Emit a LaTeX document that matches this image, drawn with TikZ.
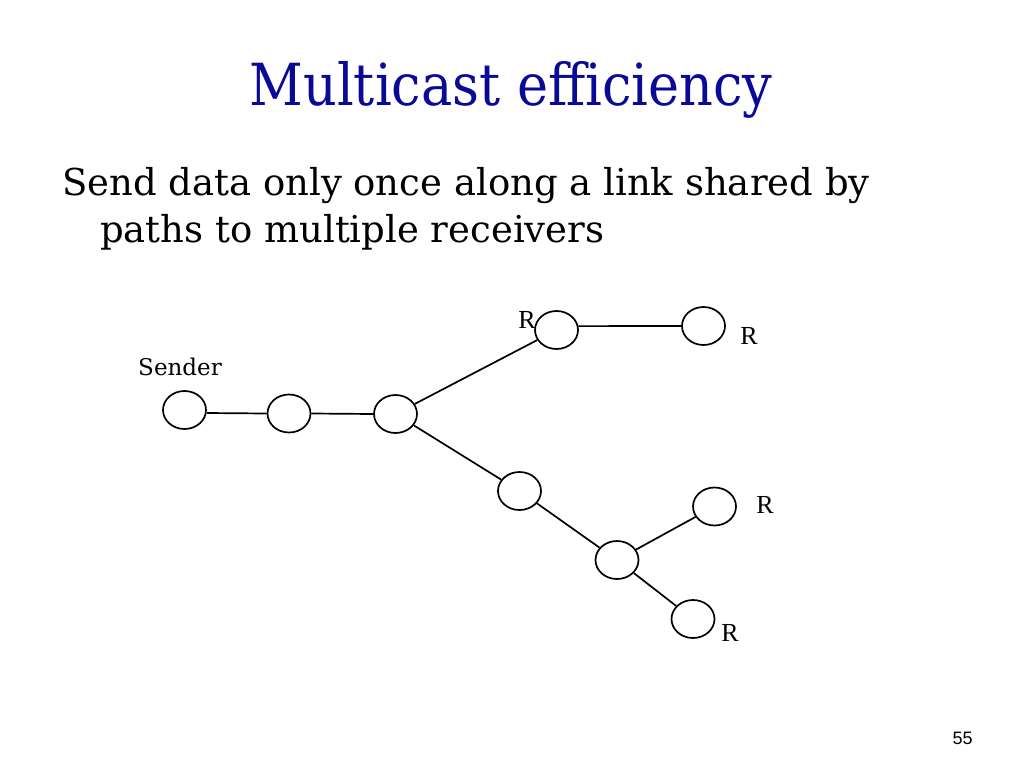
\documentclass[tikz,border=0pt]{standalone}
\usepackage{fontspec}
\setmainfont{DejaVu Serif}
\newfontfamily\titlefont[FakeStretch=0.905]{DejaVu Serif}
\newfontfamily\rfont{Liberation Serif}
\newfontfamily\numfont{Liberation Sans}
\usetikzlibrary{shapes.geometric}
\definecolor{titleblue}{RGB}{10,10,150}
\tikzset{
	hop/.style={draw, ellipse, line width=1.7pt, minimum width=43pt, minimum height=38pt, inner sep=0pt},
	link/.style={line width=1.7pt},
	rlabel/.style={anchor=base, font=\rfont\fontsize{26}{26}\selectfont, inner sep=0pt}
}
\begin{document}
\begin{tikzpicture}[x=1pt, y=-1pt]
	\useasboundingbox (0,0) rectangle (1024,768);
	
	\node[anchor=base, inner sep=0pt, text=titleblue, font=\titlefont\fontsize{58}{58}\selectfont] (title) at (511,105) {Multicast efficiency};
	\node[anchor=base west, inner sep=0pt, font=\fontsize{37}{37}\selectfont] (line1) at (62,195) {Send data only once along a link shared by};
	\node[anchor=base west, inner sep=0pt, font=\fontsize{37}{37}\selectfont] (line2) at (100,242) {paths to multiple receivers};
	
	
	\node[hop] (s) at (184.5,410) {};
	\node[hop] (a) at (289,413.5) {};
	\node[hop] (b) at (395.5,414) {};
	\node[hop] (c) at (556.5,330) {};
	\node[hop] (c2) at (703.5,326) {};
	\node[hop] (d) at (519.5,491) {};
	\node[hop] (e) at (617,560) {};
	\node[hop] (e1) at (714.5,506.5) {};
	\node[hop] (e2) at (693,619) {};
	
	\draw[link] ([yshift=-3pt]s.east) -- (a.west);
	\draw[link] (a.east) -- (b.west);
	\draw[link] (b) -- (c);
	\draw[link] (c.10) -- (c2.west);
	\draw[link] (b) -- (d);
	\draw[link] (d) -- (e);
	\draw[link] (e) -- (e1);
	\draw[link] (e) -- (e2);
	
	
	\node[anchor=base, inner sep=0pt, font=\fontsize{23}{23}\selectfont] (sender) at (180,375) {Sender};
	\node[rlabel] (rc) at (527,328) {R};
	\node[rlabel] (rc2) at (749,344) {R};
	\node[rlabel] (re1) at (765,513) {R};
	\node[rlabel] (re2) at (730,641) {R};
	
	\node[anchor=base, inner sep=0pt, font=\numfont\fontsize{18}{18}\selectfont] (page) at (962.5,744) {55};
	
\end{tikzpicture}
\end{document}
